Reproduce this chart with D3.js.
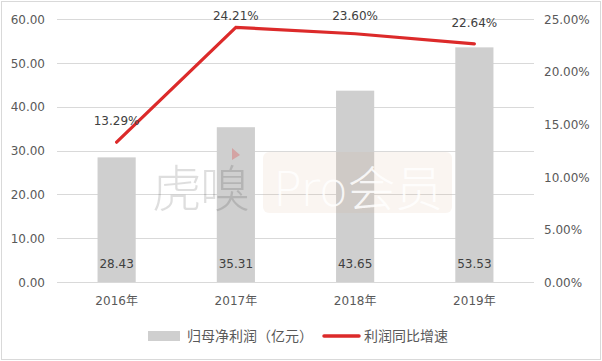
<!DOCTYPE html>
<html><head><meta charset="utf-8">
<script src="https://cdn.jsdelivr.net/npm/d3@7"></script>
<style>
body{margin:0;background:#fff;}
text{font-family:"DejaVu Sans","Noto Sans CJK SC",sans-serif;}
</style></head>
<body><svg id="c" width="602" height="361"></svg>
<script>
const categories = ["2016年","2017年","2018年","2019年"];
const profit = [28.43, 35.31, 43.65, 53.53];
const growth = [13.29, 24.21, 23.60, 22.64];
const leftTicks = [0,10,20,30,40,50,60];
const rightTicks = [0,5,10,15,20,25];
const legendLabels = ["归母净利润（亿元）","利润同比增速"];

const svg = d3.select("#c");
const W=602,H=361;
const m={l:57,r:68,t:19,b:79};
const x0=m.l,x1=W-m.r,y0=H-m.b,y1=m.t;

svg.append("rect").attr("x",1.5).attr("y",1.5).attr("width",W-3).attr("height",H-3)
  .attr("fill","#fff").attr("stroke","#d9d9d9").attr("stroke-width",1);

const x=d3.scaleBand().domain(categories).range([x0,x1]).paddingInner(0.68).paddingOuter(0.34);
const yL=d3.scaleLinear().domain([0,60]).range([y0,y1]);
const yR=d3.scaleLinear().domain([0,25]).range([y0,y1]);

// gridlines
svg.append("g").selectAll("line").data(leftTicks).join("line")
  .attr("x1",x0).attr("x2",x1).attr("y1",d=>Math.round(yL(d))+0.5).attr("y2",d=>Math.round(yL(d))+0.5)
  .attr("stroke","#d9d9d9").attr("stroke-width",1);

// left axis
const gl=svg.append("g").attr("transform",`translate(${x0-12},0)`)
  .call(d3.axisLeft(yL).tickValues(leftTicks).tickFormat(d3.format(".2f")).tickSize(0).tickPadding(0));
gl.select(".domain").remove();
gl.selectAll("text").attr("fill","#595959").attr("font-size",12).attr("dy","0.35em");

// right axis
const gr=svg.append("g").attr("transform",`translate(${x1+10},0)`)
  .call(d3.axisRight(yR).tickValues(rightTicks).tickFormat(d=>d3.format(".2f")(d)+"%").tickSize(0).tickPadding(0));
gr.select(".domain").remove();
gr.selectAll("text").attr("fill","#595959").attr("font-size",12).attr("dy","0.35em");

// x axis
const gx=svg.append("g").attr("transform",`translate(0,${y0+19})`)
  .call(d3.axisBottom(x).tickSize(0).tickPadding(0));
gx.select(".domain").remove();
gx.selectAll("text").attr("fill","#595959").attr("font-size",12).attr("dy","0.35em");

// bars
svg.append("g").selectAll("rect").data(profit).join("rect")
  .attr("x",(d,i)=>x(categories[i])).attr("width",x.bandwidth())
  .attr("y",d=>yL(d)).attr("height",d=>y0-yL(d)).attr("fill","#cfcfcf");

// watermark (on top of bars)
const wm=svg.append("g");
wm.append("text").attr("x",152).attr("y",207).attr("font-size",50)
  .attr("font-family","'Noto Sans CJK SC'").attr("font-weight",300)
  .attr("fill","rgba(0,0,0,0.13)").attr("textLength",98).text("虎嗅");
wm.append("path").attr("d","M232,148 L240,155 L232,160 Z").attr("fill","rgba(220,80,80,0.35)");
wm.append("rect").attr("x",263).attr("y",152).attr("width",189).attr("height",61).attr("rx",6)
  .attr("fill","rgba(215,170,140,0.12)");
wm.append("text").attr("x",273).attr("y",206).attr("font-size",48)
  .attr("font-family","'Noto Sans CJK SC'").attr("font-weight",300)
  .attr("fill","rgba(255,255,255,0.85)").attr("textLength",170).text("Pro会员");

// bar labels
svg.append("g").selectAll("text").data(profit).join("text")
  .attr("x",(d,i)=>x(categories[i])+x.bandwidth()/2).attr("y",y0-18)
  .attr("text-anchor","middle").attr("dy","0.35em").attr("font-size",12).attr("fill","#404040")
  .text(d=>d3.format(".2f")(d));

// line
const cx=i=>x(categories[i])+x.bandwidth()/2;
svg.append("path").datum(growth)
  .attr("d",d3.line().x((d,i)=>cx(i)).y(d=>yR(d)))
  .attr("fill","none").attr("stroke","#dc2a2a").attr("stroke-width",3.2).attr("stroke-linecap","round");

svg.append("g").selectAll("text").data(growth).join("text")
  .attr("x",(d,i)=>cx(i)).attr("y",d=>Math.max(yR(d)-17,20))
  .attr("text-anchor","middle").attr("font-size",12).attr("fill","#404040")
  .text(d=>d3.format(".2f")(d)+"%");

// legend
const lg=svg.append("g");
lg.append("rect").attr("x",148).attr("y",331).attr("width",32).attr("height",10).attr("fill","#cfcfcf");
lg.append("text").attr("x",187).attr("y",336).attr("dy","0.35em").attr("font-size",14)
  .attr("font-family","'Noto Sans CJK SC'").attr("fill","#595959").text(legendLabels[0]);
lg.append("line").attr("x1",324).attr("x2",359).attr("y1",336).attr("y2",336)
  .attr("stroke","#dc2a2a").attr("stroke-width",3.5).attr("stroke-linecap","round");
lg.append("text").attr("x",364).attr("y",336).attr("dy","0.35em").attr("font-size",14)
  .attr("font-family","'Noto Sans CJK SC'").attr("fill","#595959").text(legendLabels[1]);
</script></body></html>
